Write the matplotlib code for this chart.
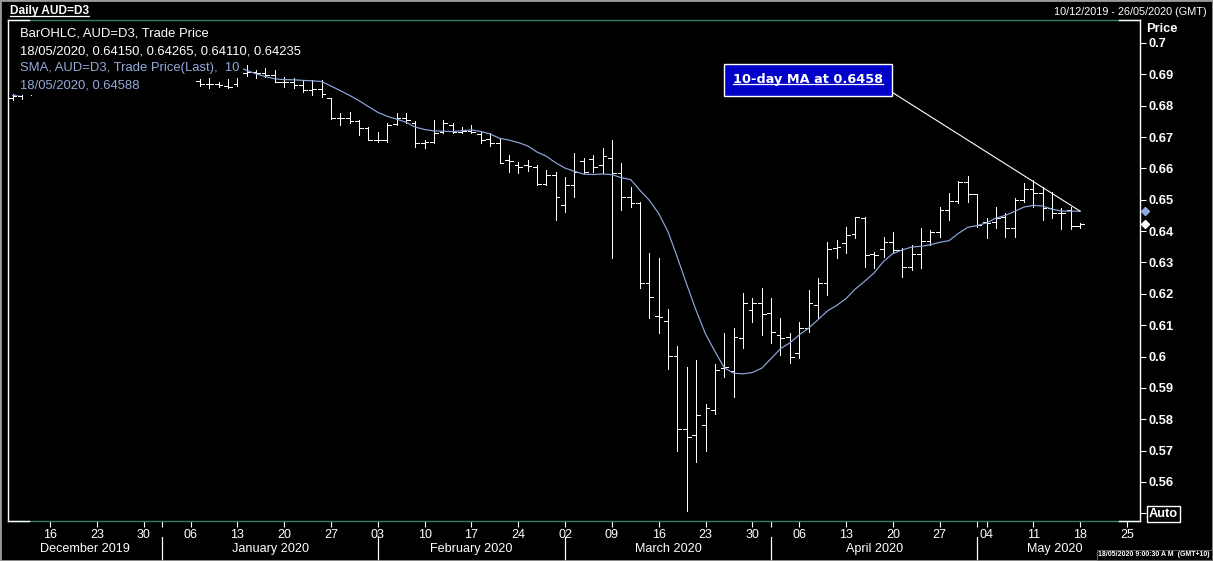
import matplotlib
matplotlib.use('Agg')
import matplotlib.pyplot as plt
import matplotlib.transforms as mtransforms
from matplotlib.lines import Line2D
from matplotlib.patches import Rectangle
from matplotlib.text import Text
import numpy as np
import pandas as pd

# ---------------- data ----------------
start_date = '2019-12-10'
axis_end_date = '2020-05-26'

opens = [0.6825, 0.6832, 0.6840, 0.6890,
         0.6880, 0.6865, 0.6860, 0.6855, 0.6885,
         0.6900, 0.6920, 0.6925, 0.6930, 0.6960,
         0.6975, 0.7000, 0.7020, 0.7015, 0.6985,
         0.6950, 0.6880, 0.6870, 0.6868, 0.6862,
         0.6870, 0.6905, 0.6908, 0.6903, 0.6898,
         0.6877, 0.6875, 0.6866, 0.6850, 0.6852,
         0.6825, 0.6761, 0.6760, 0.6752, 0.6729,
         0.6691, 0.6690, 0.6742, 0.6760, 0.6745,
         0.6680, 0.6684, 0.6715, 0.6738, 0.6716,
         0.6720, 0.6710, 0.6695, 0.6681, 0.6627,
         0.6610, 0.6610, 0.6605, 0.6550, 0.6580,
         0.6483, 0.6547, 0.6625, 0.6630, 0.6610,
         0.6633, 0.6585, 0.6509, 0.6490, 0.6236,
         0.6130, 0.6114, 0.6001, 0.5769, 0.5750,
         0.5782, 0.5830, 0.5964, 0.5955, 0.6059,
         0.6149, 0.6171, 0.6140, 0.6069, 0.6062,
         0.6011, 0.6091, 0.6165, 0.6235, 0.6347,
         0.6362, 0.6391, 0.6443, 0.6327, 0.6343,
         0.6365, 0.6340, 0.6286, 0.6327, 0.6368,
         0.6397, 0.6467, 0.6495, 0.6557, 0.6518,
         0.6430, 0.6430, 0.6445, 0.6410, 0.6499,
         0.6534, 0.6521, 0.6474, 0.6458, 0.6467,
         0.64150]

highs = [0.6838, 0.6845, 0.6900, 0.6939,
         0.6890, 0.6885, 0.6870, 0.6890, 0.6910,
         0.6925, 0.6935, 0.6935, 0.6965, 0.6985,
         0.7010, 0.7032, 0.7030, 0.7025, 0.6990,
         0.6960, 0.6885, 0.6888, 0.6876, 0.6885,
         0.6915, 0.6930, 0.6914, 0.6920, 0.6914,
         0.6892, 0.6888, 0.6882, 0.6882, 0.6882,
         0.6825, 0.6777, 0.6780, 0.6754, 0.6732,
         0.6716, 0.6745, 0.6777, 0.6777, 0.6750,
         0.6691, 0.6754, 0.6754, 0.6745, 0.6732,
         0.6738, 0.6716, 0.6713, 0.6697, 0.6643,
         0.6620, 0.6627, 0.6611, 0.6595, 0.6589,
         0.6573, 0.6649, 0.6633, 0.6643, 0.6665,
         0.6691, 0.6617, 0.6541, 0.6493, 0.6330,
         0.6314, 0.6152, 0.6034, 0.5967, 0.5989,
         0.5849, 0.5976, 0.6075, 0.6091, 0.6203,
         0.6187, 0.6219, 0.6187, 0.6123, 0.6075,
         0.6110, 0.6212, 0.6251, 0.6365, 0.6372,
         0.6413, 0.6445, 0.6445, 0.6334, 0.6381,
         0.6397, 0.6346, 0.6356, 0.6410, 0.6404,
         0.6477, 0.6522, 0.6560, 0.6576, 0.6518,
         0.6442, 0.6477, 0.6458, 0.6506, 0.6554,
         0.6563, 0.6541, 0.6525, 0.6474, 0.6477,
         0.64265]

lows = [0.6818, 0.6820, 0.6835, 0.6860,
        0.6860, 0.6850, 0.6845, 0.6850, 0.6875,
        0.6895, 0.6910, 0.6920, 0.6925, 0.6950,
        0.6970, 0.6990, 0.7010, 0.6975, 0.6935,
        0.6895, 0.6863, 0.6857, 0.6860, 0.6857,
        0.6862, 0.6895, 0.6888, 0.6892, 0.6876,
        0.6860, 0.6857, 0.6844, 0.6834, 0.6828,
        0.6758, 0.6739, 0.6745, 0.6707, 0.6691,
        0.6684, 0.6684, 0.6739, 0.6745, 0.6668,
        0.6665, 0.6682, 0.6713, 0.6713, 0.6713,
        0.6713, 0.6680, 0.6672, 0.6617, 0.6589,
        0.6585, 0.6592, 0.6547, 0.6547, 0.6436,
        0.6461, 0.6509, 0.6585, 0.6589, 0.6585,
        0.6314, 0.6467, 0.6477, 0.6219, 0.6123,
        0.6075, 0.5960, 0.5699, 0.5508, 0.5664,
        0.5699, 0.5817, 0.5935, 0.5871, 0.6027,
        0.6110, 0.6069, 0.6043, 0.6005, 0.5980,
        0.5996, 0.6078, 0.6123, 0.6196, 0.6314,
        0.6330, 0.6378, 0.6286, 0.6283, 0.6318,
        0.6330, 0.6254, 0.6276, 0.6283, 0.6356,
        0.6381, 0.6436, 0.6490, 0.6493, 0.6413,
        0.6378, 0.6410, 0.6381, 0.6381, 0.6493,
        0.6477, 0.6436, 0.6442, 0.6407, 0.6407,
        0.64110]

closes = [0.6832, 0.6840, 0.6890, 0.6880,
          0.6865, 0.6860, 0.6855, 0.6885, 0.6900,
          0.6920, 0.6925, 0.6930, 0.6960, 0.6975,
          0.7000, 0.7020, 0.7015, 0.6985, 0.6950,
          0.6900, 0.6870, 0.6870, 0.6865, 0.6860,
          0.6905, 0.6908, 0.6903, 0.6898, 0.6877,
          0.6875, 0.6866, 0.6850, 0.6852, 0.6837,
          0.6761, 0.6760, 0.6752, 0.6729, 0.6691,
          0.6690, 0.6740, 0.6761, 0.6754, 0.6680,
          0.6684, 0.6713, 0.6745, 0.6716, 0.6720,
          0.6715, 0.6690, 0.6680, 0.6617, 0.6625,
          0.6603, 0.6608, 0.6550, 0.6580, 0.6509,
          0.6547, 0.6589, 0.6590, 0.6605, 0.6640,
          0.6585, 0.6509, 0.6490, 0.6236, 0.6190,
          0.6127, 0.6001, 0.5769, 0.5744, 0.5814,
          0.5836, 0.5957, 0.5967, 0.6063, 0.6171,
          0.6170, 0.6137, 0.6078, 0.6059, 0.5999,
          0.6091, 0.6170, 0.6235, 0.6343, 0.6349,
          0.6388, 0.6445, 0.6324, 0.6325, 0.6365,
          0.6340, 0.6286, 0.6327, 0.6368, 0.6397,
          0.6467, 0.6497, 0.6557, 0.6518, 0.6420,
          0.6425, 0.6441, 0.6410, 0.6499, 0.6534,
          0.6521, 0.6474, 0.6458, 0.6458, 0.6417,
          0.64235]

sma_window = 10
x_tick_labels = ['16', '23', '30', '06', '13', '20', '27', '03', '10', '17', '24', '02',
                 '09', '16', '23', '30', '06', '13', '20', '27', '04', '11', '18', '25']
month_labels = ['December 2019', 'January 2020', 'February 2020',
                'March 2020', 'April 2020', 'May 2020']
month_starts = ['2019-12-01', '2020-01-01', '2020-02-01',
                '2020-03-01', '2020-04-01', '2020-05-01']
y_ticks = [0.55, 0.56, 0.57, 0.58, 0.59, 0.60, 0.61, 0.62,
           0.63, 0.64, 0.65, 0.66, 0.67, 0.68, 0.69, 0.70]

legend_line1 = 'BarOHLC, AUD=D3, Trade Price'
legend_line2 = '18/05/2020, 0.64150, 0.64265, 0.64110, 0.64235'
legend_line3 = 'SMA, AUD=D3, Trade Price(Last),  10'
legend_line4 = '18/05/2020, 0.64588'
annot_text = '10-day MA at 0.6458'

# ---------------- figure ----------------
W, H = 1213, 561
SANS = ['Liberation Sans', 'DejaVu Sans']
fig = plt.figure(figsize=(W / 100, H / 100), dpi=100, facecolor='black')
ax = fig.add_axes([8 / W, 40 / H, 1132 / W, 501 / H], facecolor='black')

dates = pd.bdate_range(start_date, axis_end_date)
n = len(opens)
idx = np.arange(n)

o = np.array(opens); h = np.array(highs); l = np.array(lows); c = np.array(closes)
sma = pd.Series(c).rolling(sma_window, min_periods=1).mean().to_numpy()

tick_half = 0.4
bar_lw = 0.72
ax.vlines(idx, l, h, colors='white', lw=bar_lw, antialiased=False, zorder=3)
ax.hlines(o, idx - tick_half, idx, colors='white', lw=bar_lw, antialiased=False, zorder=3)
ax.hlines(c, idx, idx + tick_half, colors='white', lw=bar_lw, antialiased=False, zorder=3)
sma_color = '#8ea9df'
ax.plot(idx, sma, color=sma_color, lw=0.85, zorder=4)

ax.set_xlim(-0.49, 120.39)
ax.set_ylim(0.54756, 0.70733)

# spines
for s in ['top', 'bottom']:
    ax.spines[s].set_color('#2f7f70')
    ax.spines[s].set_linewidth(1.0)
for s in ['left', 'right']:
    ax.spines[s].set_color('white')
    ax.spines[s].set_linewidth(1.0)
cw = 21 / 1132
for seg in [([0, cw], [1, 1]), ([1 - cw, 1], [1, 1]), ([0, cw], [0, 0]), ([1 - cw, 1], [0, 0])]:
    ax.plot(seg[0], seg[1], color='white', lw=1.0, transform=ax.transAxes,
            clip_on=False, zorder=6)

# y axis on right
ax.yaxis.tick_right()
ax.set_yticks(y_ticks)
ax.set_yticklabels(['' if abs(v - 0.55) < 1e-9 else ('%g' % v) for v in y_ticks])
ax.tick_params(axis='y', colors='white', length=4, width=0.8, direction='out', pad=2,
               labelsize=9.3)
for t in ax.get_yticklabels():
    t.set_fontweight('bold')
    t.set_family(SANS)

# x axis
mondays = [i for i, d in enumerate(dates) if d.weekday() == 0 and d >= pd.Timestamp('2019-12-16')]
ax.set_xticks(mondays)
ax.set_xticklabels(x_tick_labels)
ax.tick_params(axis='x', colors='white', length=4, width=0.8, direction='out', pad=2,
               labelsize=9)
for t in ax.get_xticklabels():
    t.set_family(SANS)

# month separators and labels
sep_pos = []
for ms in month_starts[1:]:
    sep_pos.append(int(np.searchsorted(dates, pd.Timestamp(ms))))
ax.set_xticks(sep_pos, minor=True)
ax.tick_params(axis='x', which='minor', colors='white', length=4, width=0.8, direction='out')
xt = ax.get_xaxis_transform()
for p in sep_pos:
    ax.plot([p, p], [(521 - 537) / 501, (521 - 562) / 501], color='white', lw=0.9,
            transform=xt, clip_on=False)
bounds = [ax.get_xlim()[0]] + sep_pos + [ax.get_xlim()[1]]
for k, lab in enumerate(month_labels):
    cx = (bounds[k] + bounds[k + 1]) / 2
    if k == len(month_labels) - 1:
        cx -= 0.4
    ax.text(cx, (521 - 549) / 501, lab, transform=xt, ha='center', va='center',
            color='white', fontsize=9.1, family=SANS, clip_on=False)

# legend rows (with black backgrounds hiding data)
rows = [(legend_line1, 'white', 34), (legend_line2, 'white', 51),
        (legend_line3, '#93abd9', 68), (legend_line4, '#93abd9', 85)]
for txt, col, yc in rows:
    fig.text(20 / W, 1 - yc / H, txt, color=col, fontsize=9.4, family=SANS,
             ha='left', va='center', zorder=10,
             bbox=dict(facecolor='black', edgecolor='none', pad=2.6))

# titles
title = fig.text(10 / W, 1 - 11 / H, 'Daily AUD=D3', color='white', fontsize=8.6,
                 fontweight='bold', family=SANS, ha='left', va='center')
fig.text(1207 / W, 1 - 12 / H, '10/12/2019 - 26/05/2020 (GMT)', color='white',
         fontsize=7.8, family=SANS, ha='right', va='center')
fig.text(1146 / W, 1 - 29 / H, 'Price', color='white', fontsize=9.3, fontweight='bold',
         family=SANS, ha='left', va='center')
fig.text(1149 / W, 1 - 514 / H, 'Auto', color='white', fontsize=9.3, fontweight='bold',
         family=SANS, ha='left', va='center',
         bbox=dict(facecolor='black', edgecolor='white', pad=1.2, lw=1))
fig.text(1210 / W, 1 - 555 / H, '18/05/2020 9:00:30 A M  (GMT+10)', color='white',
         fontsize=5.0, fontweight='bold', family=SANS, ha='right', va='center', zorder=12,
         bbox=dict(facecolor='black', edgecolor='#707070', pad=1.2, lw=0.6))

# last-value diamonds on the right axis
yt = mtransforms.blended_transform_factory(ax.transAxes, ax.transData)
ax.plot([1 + 5 / 1132], [sma[-1]], marker='D', ms=4.2, color=sma_color, transform=yt,
        clip_on=False, zorder=8)
ax.plot([1 + 5 / 1132], [c[-1]], marker='D', ms=4.2, color='white', transform=yt,
        clip_on=False, zorder=8)

# annotation box
ann = ax.annotate(annot_text, xy=(n - 1, sma[-1]), xycoords='data',
                  xytext=(808 / W, 1 - 80 / H), textcoords='figure fraction',
                  ha='center', va='center', color='white', fontsize=9.3,
                  fontweight='bold', family='DejaVu Sans', zorder=9,
                  bbox=dict(boxstyle='square,pad=0.72', fc='#0000c8', ec='white', lw=1),
                  arrowprops=dict(arrowstyle='-', color='white', lw=0.8, relpos=(1, 0),
                                  shrinkA=0, shrinkB=0))

# border around the whole picture
fig.add_artist(Rectangle((0, 0), 1, 1, transform=fig.transFigure, fill=False,
                         edgecolor='#9a9a9a', lw=2))

# underlines (text extents only)
fig.canvas.draw()
r = fig.canvas.get_renderer()
for t, off in [(ann, 2.5), (title, 1.5)]:
    bb = Text.get_window_extent(t, r)
    fig.add_artist(Line2D([bb.x0, bb.x1], [bb.y0 + off, bb.y0 + off], color='white',
                          lw=0.9, transform=mtransforms.IdentityTransform(), zorder=15))

fig.savefig('out.png', dpi=100, facecolor='black')
